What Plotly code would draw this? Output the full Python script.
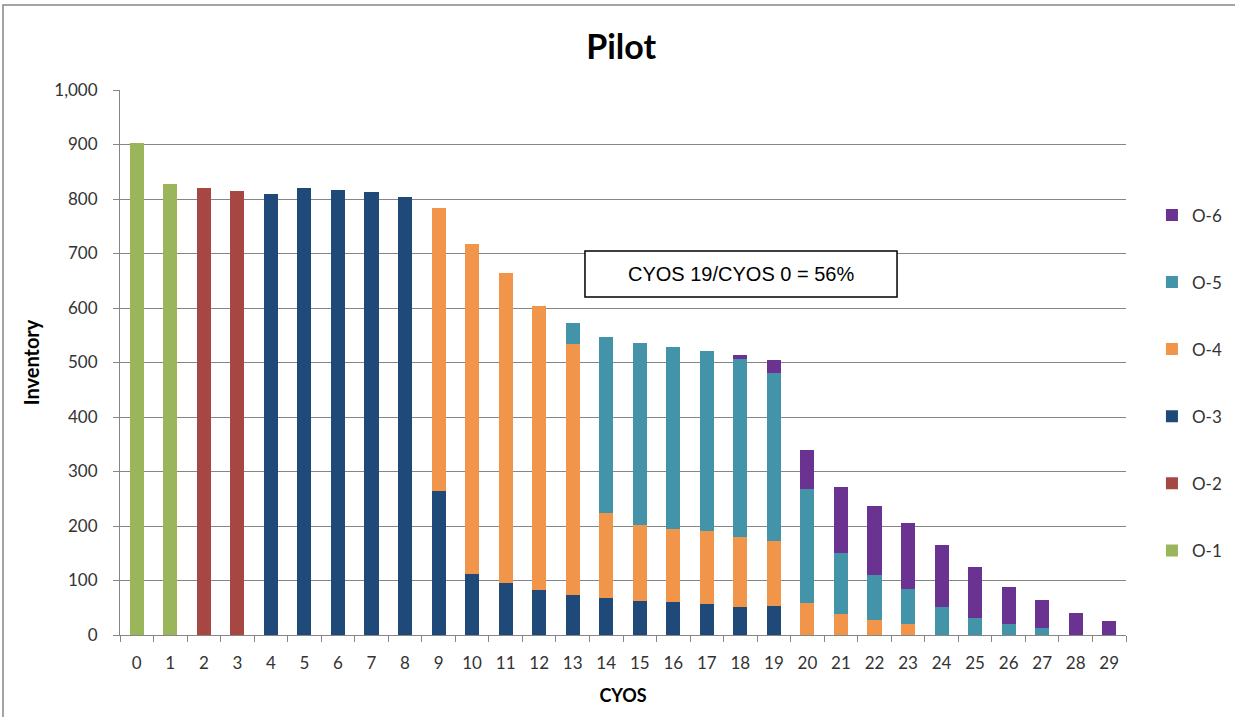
import plotly.graph_objects as go

cyos = [str(i) for i in range(30)]
o1 = [903, 828] + [0] * 28
o2 = [0, 0, 821, 814] + [0] * 26
o3 = [0, 0, 0, 0, 810, 820, 816, 812, 804, 265, 112, 95, 82, 73, 67, 63, 60, 56, 52, 54] + [0] * 10
o4 = [0] * 9 + [519, 606, 569, 522, 461, 156, 138, 135, 134, 128, 118, 58, 39, 28, 21] + [0] * 6
o5 = [0] * 13 + [39, 323, 335, 333, 331, 326, 308, 210, 111, 83, 63, 52, 32, 21, 13, 0, 0]
o6 = [0] * 18 + [7, 24, 71, 122, 126, 121, 113, 92, 68, 52, 40, 26]

series = [("O-1", o1, "#9BB55A"), ("O-2", o2, "#A64743"), ("O-3", o3, "#1F4978"),
          ("O-4", o4, "#F0954A"), ("O-5", o5, "#4394A9"), ("O-6", o6, "#6B3391")]

font = "Lato, 'Open Sans', sans-serif"
fig = go.Figure()
for i, (name, vals, col) in enumerate(series):
    fig.add_trace(go.Bar(x=cyos, y=vals, name=name, legendgroup=name, legendrank=100 - i,
                         marker=dict(color=col, line=dict(width=0))))

fig.update_layout(
    barmode="stack", bargap=0.58,
    width=1235, height=717,
    margin=dict(l=120, r=109, t=90, b=82, autoexpand=False),
    paper_bgcolor="white", plot_bgcolor="white",
    font=dict(family=font, size=17, color="#333333"),
    title=dict(text="<b>Pilot</b>", x=0.503, xanchor="center", y=1 - 47 / 717, yanchor="middle",
               font=dict(size=34, family=font, color="#000000")),
    legend=dict(x=1.0258, xanchor="left", y=0.803, yanchor="top",
                traceorder="grouped", tracegroupgap=42,
                font=dict(size=17, family=font, color="#333333"), itemwidth=30),
    showlegend=True,
)
fig.update_xaxes(type="category", showline=True, linecolor="#868686", linewidth=1,
                 ticks="outside", tickson="boundaries", ticklen=6, tickcolor="#868686",
                 showgrid=False, ticklabelstandoff=13,
                 title=dict(text="<b>CYOS</b>", font=dict(size=18, family=font, color="#000000"), standoff=16))
fig.update_yaxes(range=[0, 1000], dtick=100, tickformat=",", showline=True,
                 linecolor="#868686", linewidth=1, ticks="outside", ticklen=6,
                 tickcolor="#868686", showgrid=True, gridcolor="#868686", gridwidth=1,
                 ticklabelstandoff=12,
                 title=dict(text="<b>Inventory</b>", font=dict(size=20, family=font, color="#000000"), standoff=9))

fig.add_shape(type="rect", xref="paper", yref="paper", x0=0.4622, x1=0.7724, y0=0.6202, y1=0.7046,
              line=dict(color="black", width=1.5), fillcolor="white")
fig.add_annotation(xref="paper", yref="paper", x=0.6173, y=0.6624, text="CYOS 19/CYOS 0 = 56%",
                   showarrow=False, font=dict(size=20, family="'Liberation Sans', Arial, sans-serif", color="black"))
# outer chart border
fig.add_shape(type="rect", xref="paper", yref="paper",
              x0=-117 / 1006, x1=1.2, y0=-0.5, y1=1 + 85 / 545,
              line=dict(color="#868686", width=1.5), layer="below")

fig.write_html("out.html", config={"displayModeBar": False},
               post_script="document.body.style.margin='0px';document.body.style.overflow='hidden';")
